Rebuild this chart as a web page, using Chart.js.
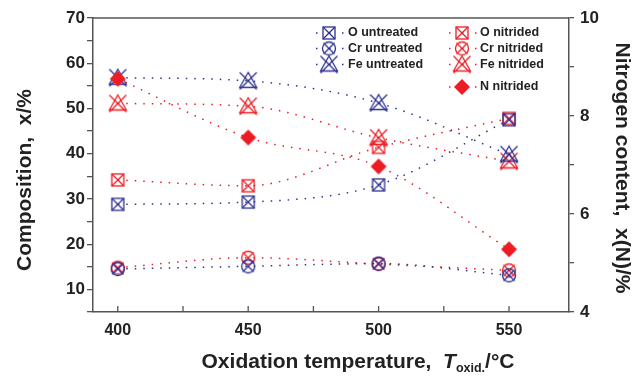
<!DOCTYPE html>
<html>
<head>
<meta charset="utf-8">
<script src="https://cdn.jsdelivr.net/npm/chart.js@4.4.1/dist/chart.umd.min.js"></script>
<style>
  html,body{margin:0;padding:0;background:#fff}
  #wrap{width:640px;height:377px;position:relative}
</style>
</head>
<body>
<div id="wrap"><canvas id="c" width="640" height="377"></canvas></div>
<script>
// values
const temps       = [400, 450, 500, 550];
const oUntreated  = [28.8, 29.3, 33.1, 47.5];
const crUntreated = [14.5, 15.1, 15.7, 13.1];
const feUntreated = [56.8, 56.1, 51.2, 39.8];
const oNitrided   = [34.2, 32.9, 41.4, 47.8];
const crNitrided  = [14.8, 17.0, 15.6, 14.2];
const feNitrided  = [51.1, 50.5, 43.5, 38.3];
const nNitrided   = [8.76, 7.56, 6.97, 5.28];   // right axis
const xTickVals   = [400, 450, 500, 550];

const BLUE = '#2e3192', RED = '#ed1c24', AXIS = '#555', TXT = '#222';
const FONT = '"Liberation Sans", Arial, sans-serif';

// marker glyphs as small canvases (box-x, circle-x, triangle-x, diamond)
function marker(kind, color){
  const c = document.createElement('canvas'); c.width = 24; c.height = 24;
  const g = c.getContext('2d');
  g.strokeStyle = color; g.fillStyle = color; g.lineWidth = 1.3;
  g.translate(12, 12);
  const ln = (a,b,x,y) => { g.beginPath(); g.moveTo(a,b); g.lineTo(x,y); g.stroke(); };
  if(kind === 'box'){
    g.strokeRect(-6,-6,12,12); ln(-6,-6,6,6); ln(-6,6,6,-6);
  } else if(kind === 'circ'){
    g.beginPath(); g.arc(0,0,6.5,0,Math.PI*2); g.stroke();
    ln(-5.5,-5.5,5.5,5.5); ln(-5.5,5.5,5.5,-5.5);
  } else if(kind === 'tri'){
    g.beginPath(); g.moveTo(0,-8.5); g.lineTo(-8.5,6.5); g.lineTo(8.5,6.5); g.closePath(); g.stroke();
    ln(-8.5,-8.5,8.5,8.5); ln(-8.5,8.5,8.5,-8.5);
  } else if(kind === 'dia'){
    g.beginPath(); g.moveTo(0,-8); g.lineTo(8,0); g.lineTo(0,8); g.lineTo(-8,0); g.closePath(); g.fill();
  }
  return c;
}

function series(label, vals, color, kind, axis){
  return {
    label, yAxisID: axis || 'y',
    data: temps.map((t,i) => ({x:t, y:vals[i]})),
    borderColor: color, borderWidth: 1.5, borderDash: [1.5, 7],
    tension: 0.4, cubicInterpolationMode: 'monotone', fill: false,
    pointStyle: marker(kind, color), pointRadius: 9
  };
}

const datasets = [
  series('N nitrided',   nNitrided,   RED,  'dia', 'y2'),
  series('O untreated',  oUntreated,  BLUE, 'box'),
  series('Cr untreated', crUntreated, BLUE, 'circ'),
  series('Fe untreated', feUntreated, BLUE, 'tri'),
  series('O nitrided',   oNitrided,   RED,  'box'),
  series('Cr nitrided',  crNitrided,  RED,  'circ'),
  series('Fe nitrided',  feNitrided,  RED,  'tri'),
];

// legend slots: [dataset label, marker x, text x, row y]
const legendSlots = [
  ['O untreated', 329, 348, 33], ['Cr untreated', 329, 348, 48.5], ['Fe untreated', 329, 348, 64.5],
  ['O nitrided', 462, 480, 33], ['Cr nitrided', 462, 480, 48.5], ['Fe nitrided', 462, 480, 64.5],
  ['N nitrided', 462, 480, 87]
];

const TITLE_FONT = 'bold 21px ' + FONT;

const decor = {
  id: 'decor',
  afterDraw(chart){
    const {ctx, chartArea: a, scales: {x}} = chart;
    ctx.save();
    // top frame line
    ctx.strokeStyle = AXIS; ctx.lineWidth = 1.5;
    ctx.beginPath(); ctx.moveTo(a.left, a.top); ctx.lineTo(a.right, a.top); ctx.stroke();
    // inward x ticks
    ctx.lineWidth = 1.3;
    for(let v = 400; v <= 550; v += 25){
      const px = x.getPixelForValue(v);
      ctx.beginPath(); ctx.moveTo(px, a.bottom); ctx.lineTo(px, a.bottom - 6); ctx.stroke();
    }
    // legend
    ctx.font = 'bold 12.5px ' + FONT; ctx.fillStyle = TXT; ctx.textBaseline = 'middle';
    legendSlots.forEach(([lab, mx, tx, y]) => {
      const ds = chart.data.datasets.find(d => d.label === lab);
      ctx.strokeStyle = ds.borderColor; ctx.lineWidth = 1.5; ctx.setLineDash([1.5, 11.5]);
      ctx.beginPath(); ctx.moveTo(mx - 13, y); ctx.lineTo(mx + 15, y); ctx.stroke();
      ctx.setLineDash([]);
      const im = ds.pointStyle;
      ctx.drawImage(im, mx - im.width/2, y - im.height/2);
      ctx.fillText(lab, tx, y);
    });

    // y axis titles
    ctx.font = TITLE_FONT; ctx.textAlign = 'center'; ctx.textBaseline = 'middle';
    ctx.save(); ctx.translate(25, 180); ctx.rotate(-Math.PI/2);
    ctx.fillText('Composition,  x/%', 0, 0); ctx.restore();
    ctx.save(); ctx.translate(622, 168); ctx.rotate(Math.PI/2);
    ctx.fillText('Nitrogen content,  x(N)/%', 0, 0); ctx.restore();

    // x axis title with italic T and subscript
    const cx = 358, by = 368;
    const parts = [
      ['Oxidation temperature,  ', TITLE_FONT, 0],
      ['T', 'italic ' + TITLE_FONT, 0],
      ['oxid.', 'bold 12.5px ' + FONT, 4],
      ['/°C', TITLE_FONT, 0]
    ];
    let w = 0;
    parts.forEach(p => { ctx.font = p[1]; w += ctx.measureText(p[0]).width; });
    let px = cx - w/2;
    ctx.textBaseline = 'alphabetic'; ctx.textAlign = 'left';
    parts.forEach(p => { ctx.font = p[1]; ctx.fillText(p[0], px, by + p[2]); px += ctx.measureText(p[0]).width; });
    ctx.restore();
  }
};

new Chart(document.getElementById('c'), {
  type: 'line',
  data: { datasets },
  plugins: [decor],
  options: {
    responsive: false, animation: false, events: [],
    layout: { padding: { top: 18, left: 0, right: 0, bottom: 0 } },
    plugins: { legend: { display: false }, tooltip: { enabled: false } },
    scales: {
      x: {
        type: 'linear', min: 390.5, max: 573,
        afterBuildTicks: s => { s.ticks = xTickVals.map(v => ({value: v})); },
        afterFit: s => { s.height = 65; },
        border: { display: true, color: AXIS, width: 1.5 },
        grid: { drawOnChartArea: false, drawTicks: false },
        ticks: { padding: 9, color: TXT, font: { family: FONT, size: 16, weight: 'bold' }, maxRotation: 0, autoSkip: false }
      },
      y: {
        position: 'left', min: 5, max: 70,
        afterFit: s => { s.width = 93; },
        border: { display: true, color: AXIS, width: 1.5 },
        grid: { drawOnChartArea: false, tickLength: 6, color: AXIS, lineWidth: 1.3 },
        ticks: { stepSize: 5, padding: 2, autoSkip: false, color: TXT, font: { family: FONT, size: 17, weight: 'bold' },
          callback: v => (v % 10 === 0 && v >= 10) ? v : '' }
      },
      y2: {
        position: 'right', min: 4, max: 10,
        afterFit: s => { s.width = 71; },
        border: { display: true, color: AXIS, width: 1.5 },
        grid: { drawOnChartArea: false, tickLength: 5, color: AXIS, lineWidth: 1.3 },
        ticks: { stepSize: 1, padding: 6, autoSkip: false, color: TXT, font: { family: FONT, size: 17, weight: 'bold' },
          callback: v => (v % 2 === 0) ? v : '' }
      }
    }
  }
});
</script>
</body>
</html>
